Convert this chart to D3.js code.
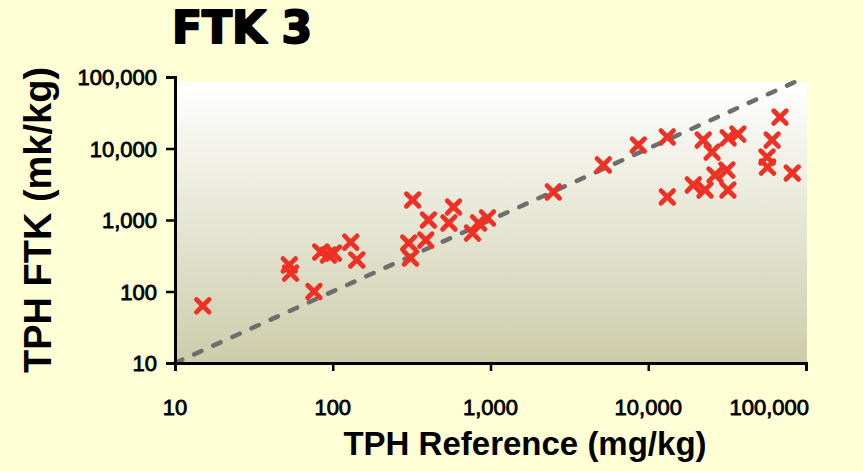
<!DOCTYPE html>
<html>
<head>
<meta charset="utf-8">
<script src="https://cdn.jsdelivr.net/npm/d3@7"></script>
<style>
  html, body { margin: 0; padding: 0; background: #FFFFD6; }
  svg { display: block; }
</style>
</head>
<body>
<svg id="chart" width="863" height="471"></svg>
<script>
// TPH by reference method (x) vs. TPH by FTK (y), mg/kg
const refValues = [15, 53, 54, 76, 84, 94, 101, 130, 142,
  321, 303, 311, 389, 404, 545, 583, 769, 840, 957,
  2500, 5190, 8650, 13200, 13200, 22300, 25400, 32100, 37000,
  19300, 22900, 26500, 31500, 32000, 68400, 61000, 56600, 57000, 81800];
const ftkValues = [63, 235, 181, 100, 357, 324, 345, 490, 276,
  1905, 477, 294, 524, 1000, 910, 1520, 657, 910, 1070,
  2470, 5890, 11200, 14500, 2100, 13100, 8900, 14100, 15900,
  3090, 2630, 4260, 5000, 2630, 27500, 13100, 7600, 5500, 4540];
const tickValues = [10, 100, 1000, 10000, 100000];
const tickLabels = ["10", "100", "1,000", "10,000", "100,000"];
const oneToOne = [10, 100000];

const svg = d3.select("#chart");
const plotLeft = 175, plotRight = 806, plotTop = 77, plotBottom = 363;
const chartRight = 809; // outer edge that the last x label is kept inside

const x = d3.scaleLog().domain([10, 100000]).range([plotLeft, plotRight]);
const y = d3.scaleLog().domain([10, 100000]).range([plotBottom, plotTop]);

// plot area background gradient
const defs = svg.append("defs");
const grad = defs.append("linearGradient")
  .attr("id", "plotBg").attr("x1", 0).attr("y1", 0).attr("x2", 0).attr("y2", 1);
grad.append("stop").attr("offset", "0%").attr("stop-color", "#FFFFFF");
grad.append("stop").attr("offset", "100%").attr("stop-color", "#CDCDAB");

svg.append("rect")
  .attr("x", plotLeft).attr("y", plotTop + 5)
  .attr("width", plotRight - plotLeft + 1).attr("height", plotBottom - plotTop - 5)
  .attr("fill", "url(#plotBg)");

// 1:1 reference line
svg.append("line")
  .attr("x1", x(oneToOne[0])).attr("y1", y(oneToOne[0]))
  .attr("x2", x(oneToOne[1])).attr("y2", y(oneToOne[1]))
  .attr("stroke", "#6E6E6E").attr("stroke-width", 4.5)
  .attr("stroke-dasharray", "8,13").attr("stroke-linecap", "round");

// axes
const xAxis = d3.axisBottom(x).tickValues(tickValues).tickSize(8).tickFormat(() => "");
const yAxis = d3.axisLeft(y).tickValues(tickValues).tickSize(9).tickFormat(() => "");

const gx = svg.append("g").attr("transform", `translate(0,${plotBottom})`).call(xAxis);
const gy = svg.append("g").attr("transform", `translate(${plotLeft},0)`).call(yAxis);
[gx, gy].forEach(g => {
  g.select(".domain").attr("stroke", "#000").attr("stroke-width", 3);
  g.selectAll(".tick line").attr("stroke", "#000").attr("stroke-width", 2.5);
});

// tick labels (the last x label is pulled inside the chart edge)
const lastIdx = tickValues.length - 1;
svg.append("g").selectAll("text").data(tickValues).join("text")
  .attr("x", (d, i) => i === lastIdx ? chartRight : x(d)).attr("y", 415)
  .attr("text-anchor", (d, i) => i === lastIdx ? "end" : "middle")
  .attr("font-family", "Liberation Sans, Arial, sans-serif")
  .attr("font-size", 22).attr("fill", "#000")
  .attr("stroke", "#000").attr("stroke-width", 0.8)
  .text((d, i) => tickLabels[i]);

svg.append("g").selectAll("text").data(tickValues).join("text")
  .attr("x", 157).attr("y", d => y(d) + 8)
  .attr("text-anchor", "end")
  .attr("font-family", "Liberation Sans, Arial, sans-serif")
  .attr("font-size", 22).attr("fill", "#000")
  .attr("stroke", "#000").attr("stroke-width", 0.8)
  .text((d, i) => tickLabels[i]);

// markers
const arm = 6.3;
svg.append("g").selectAll("path").data(refValues).join("path")
  .attr("transform", (d, i) => `translate(${x(d)},${y(ftkValues[i])})`)
  .attr("d", `M${-arm},${-arm}L${arm},${arm}M${-arm},${arm}L${arm},${-arm}`)
  .attr("stroke", "#EE3124").attr("stroke-width", 4.8)
  .attr("stroke-linecap", "round").attr("fill", "none");

// titles
svg.append("text")
  .attr("x", 172).attr("y", 43)
  .attr("font-family", "DejaVu Sans, sans-serif").attr("font-weight", "bold")
  .attr("font-size", 44).attr("fill", "#000")
  .attr("stroke", "#000").attr("stroke-width", 2).attr("stroke-linejoin", "round")
  .text("FTK 3");

svg.append("text")
  .attr("x", 525).attr("y", 455)
  .attr("text-anchor", "middle")
  .attr("font-family", "Liberation Sans, Arial, sans-serif").attr("font-weight", "bold")
  .attr("font-size", 33).attr("fill", "#000")
  .text("TPH Reference (mg/kg)");

svg.append("text")
  .attr("transform", "translate(51,220) rotate(-90)")
  .attr("text-anchor", "middle")
  .attr("font-family", "Liberation Sans, Arial, sans-serif").attr("font-weight", "bold")
  .attr("font-size", 38).attr("fill", "#000")
  .text("TPH FTK (mk/kg)");
</script>
</body>
</html>
